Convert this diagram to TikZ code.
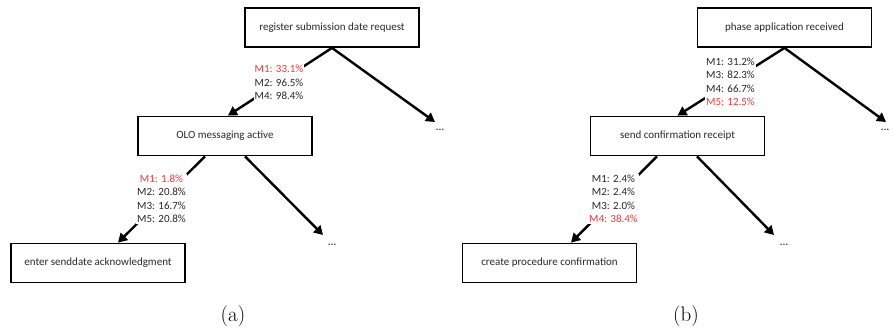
\documentclass[tikz,border=0pt]{standalone}
\usepackage{fontspec}
\setmainfont{Latin Modern Roman}
\newfontfamily\calib{Carlito}
\usetikzlibrary{arrows.meta}
\definecolor{mred}{RGB}{245,55,55}
\definecolor{mtxt}{RGB}{40,40,40}
\tikzset{
  actbox/.style={draw=black, line width=1.8pt, minimum width=174pt, minimum height=39pt,
    inner sep=0pt, font=\calib\fontsize{11}{13.5}\selectfont, text=mtxt},
  flow/.style={line width=2.4pt, -{Triangle[length=9pt,width=10pt]}},
  lbl/.style={fill=white, inner sep=1pt, align=center, font=\calib\fontsize{11}{13.5}\selectfont, text=mtxt},
  dotsn/.style={font=\fontsize{17}{19}\selectfont, inner sep=0pt},
  capt/.style={font=\fontsize{21}{25}\selectfont, inner sep=0pt}
}
\begin{document}
\begin{tikzpicture}[x=1pt,y=-1pt]
\useasboundingbox (0,0) rectangle (894,332);
% panel (a)
\node[actbox] (a1) at (332,27.5) {register submission date request};
\node[actbox] (a2) at (225,136) {OLO messaging active};
\node[actbox] (a3) at (98,263) {enter senddate acknowledgment};
\coordinate (ae1) at (435,122);
\coordinate (ae2) at (323,235);
\node[dotsn] (ad1) at (440,130) {\ldots};
\node[dotsn] (ad2) at (332,245) {\ldots};
\draw[flow] (a1.south) -- ([xshift=3pt]a2.north);
\draw[flow] (a1.south) -- (ae1);
\draw[flow] ([xshift=-20pt]a2.south) -- ([xshift=20pt]a3.north);
\draw[flow] ([xshift=20pt]a2.south) -- (ae2);
\node[lbl] (al1) at (279,82.5) {\textcolor{mred}{M1: 33.1\%}\\M2: 96.5\%\\M4: 98.4\%};
\node[lbl] (al2) at (161.5,199) {\textcolor{mred}{M1: 1.8\%}\\M2: 20.8\%\\M3: 16.7\%\\M5: 20.8\%};
\node[capt] (ca) at (233,316) {(a)};
% panel (b)
\node[actbox] (b1) at (784.5,27.5) {phase application received};
\node[actbox] (b2) at (677.5,136) {send confirmation receipt};
\node[actbox] (b3) at (549.5,263) {create procedure confirmation};
\coordinate (be1) at (886,122);
\coordinate (be2) at (774,235);
\node[dotsn] (bd1) at (885,130) {\ldots};
\node[dotsn] (bd2) at (784,245) {\ldots};
\draw[flow] (b1.south) -- (b2.north);
\draw[flow] (b1.south) -- (be1);
\draw[flow] ([xshift=-20.5pt]b2.south) -- ([xshift=21.5pt]b3.north);
\draw[flow] ([xshift=19.5pt]b2.south) -- (be2);
\node[lbl] (bl1) at (730.5,82) {M1: 31.2\%\\M3: 82.3\%\\M4: 66.7\%\\\textcolor{mred}{M5: 12.5\%}};
\node[lbl] (bl2) at (613.5,199) {M1: 2.4\%\\M2: 2.4\%\\M3: 2.0\%\\\textcolor{mred}{M4: 38.4\%}};
\node[capt] (cb) at (686,316) {(b)};
\end{tikzpicture}
\end{document}
